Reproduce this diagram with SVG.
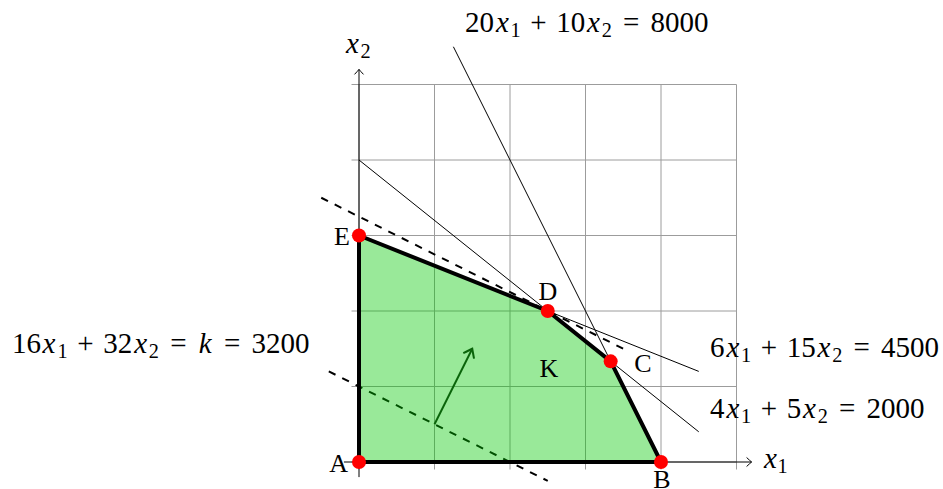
<svg xmlns="http://www.w3.org/2000/svg" width="943" height="489" viewBox="0 0 943 489">
<style>
text{font-family:"Liberation Serif","Times New Roman",serif;fill:#000}
.eq{font-size:29px}
.sub{font-size:20.3px}
.it{font-style:italic}
.pt{font-size:26px}
.grid{stroke:#9c9c9c;stroke-width:1;fill:none}
.axis{stroke:#000;stroke-width:1;fill:none}
.thin{stroke:#000;stroke-width:1;fill:none}
.dash{stroke:#000;stroke-width:2;stroke-dasharray:7.5 7.5;fill:none}
.dot{fill:#ff0000}
</style>
<defs>
<marker id="tip" markerUnits="userSpaceOnUse" markerWidth="14" markerHeight="14" viewBox="-8 -7 10 14" refX="0" refY="0" orient="auto">
<path d="M-5,-4.5 Q-1.5,-1.2 0,0 Q-1.5,1.2 -5,4.5" fill="none" stroke="#000" stroke-width="1"/>
</marker>
<marker id="gtip" markerUnits="userSpaceOnUse" markerWidth="20" markerHeight="20" viewBox="-10 -10 12 20" refX="0" refY="0" orient="auto">
<path d="M-8,-6 Q-2.5,-1.8 0,0 Q-2.5,1.8 -8,6" fill="none" stroke="#0a640a" stroke-width="2"/>
</marker>
</defs>

<g id="grid">
<path class="grid" d="M359,469.5V84.5M434.5,469.5V84.5M510,469.5V84.5M585.5,469.5V84.5M661,469.5V84.5M736.5,469.5V84.5M351.5,462H736.5M351.5,386.5H736.5M351.5,311H736.5M351.5,235.5H736.5M351.5,160H736.5M351.5,84.5H736.5"/>
</g>

<g id="axes">
<line class="axis" x1="343.9" y1="462" x2="751.6" y2="462" marker-end="url(#tip)"/>
<line class="axis" x1="359" y1="477.1" x2="359" y2="69.4" marker-end="url(#tip)"/>
</g>

<g id="connectors">
<line class="thin" x1="453.4" y1="46.75" x2="661" y2="462"/>
<line class="thin" x1="359" y1="160" x2="698.75" y2="431.8"/>
<line class="thin" x1="359" y1="235.5" x2="698.75" y2="371.4"/>
<line class="dash" x1="321.25" y1="197.75" x2="623.25" y2="348.75"/>
<line class="dash" x1="328.8" y1="371.4" x2="547.75" y2="480.9"/>
</g>

<g id="K">
<polygon points="359,462 661,462 610.67,361.33 547.75,311 359,235.5" fill="rgb(0,200,0)" fill-opacity="0.4" stroke="none"/>
<polygon points="359,462 661,462 610.67,361.33 547.75,311 359,235.5" fill="none" stroke="#000" stroke-width="4" stroke-linejoin="round"/>
<text class="pt" x="549" y="377" text-anchor="middle">K</text>
</g>

<g id="gradient-arrow">
<line x1="434.5" y1="424.25" x2="472.25" y2="348.75" stroke="#0a640a" stroke-width="2" marker-end="url(#gtip)"/>
</g>

<g id="A"><circle class="dot" cx="359" cy="462" r="7"/><text class="pt" x="348" y="472" text-anchor="end">A</text></g>
<g id="B"><circle class="dot" cx="661" cy="462" r="7"/><text class="pt" x="662" y="488" text-anchor="middle">B</text></g>
<g id="C"><circle class="dot" cx="610.67" cy="361.33" r="7"/><text class="pt" x="643" y="372" text-anchor="middle">C</text></g>
<g id="D"><circle class="dot" cx="547.75" cy="311" r="7"/><text class="pt" x="548" y="300" text-anchor="middle">D</text></g>
<g id="E"><circle class="dot" cx="359" cy="235.5" r="7"/><text class="pt" x="350" y="245" text-anchor="end">E</text></g>

<g id="labels">
<text class="eq"><tspan x="764" y="468" class="it">x</tspan><tspan x="777.5" y="472.5" class="sub">1</tspan></text>
<text class="eq"><tspan x="346" y="53" class="it">x</tspan><tspan x="360.5" y="57.5" class="sub">2</tspan></text>

<text class="eq"><tspan x="12" y="353">16</tspan><tspan x="42.5" y="353" class="it">x</tspan><tspan x="57.6" y="357.5" class="sub">1</tspan><tspan x="77.3" y="353">+</tspan><tspan x="103.2" y="353">32</tspan><tspan x="134.2" y="353" class="it">x</tspan><tspan x="148.8" y="357.5" class="sub">2</tspan><tspan x="170.2" y="353">=</tspan><tspan x="198.8" y="353" class="it">k</tspan><tspan x="224" y="353">=</tspan><tspan x="251.5" y="353">3200</tspan></text>

<text class="eq"><tspan x="465" y="32">20</tspan><tspan x="495.9" y="32" class="it">x</tspan><tspan x="510.6" y="36.5" class="sub">1</tspan><tspan x="530.3" y="32">+</tspan><tspan x="556.15" y="32">10</tspan><tspan x="587" y="32" class="it">x</tspan><tspan x="601.75" y="36.5" class="sub">2</tspan><tspan x="623.1" y="32">=</tspan><tspan x="650.6" y="32">8000</tspan></text>

<text class="eq"><tspan x="710" y="357">6</tspan><tspan x="726.4" y="357" class="it">x</tspan><tspan x="741.1" y="361.5" class="sub">1</tspan><tspan x="760.8" y="357">+</tspan><tspan x="786.65" y="357">15</tspan><tspan x="817.55" y="357" class="it">x</tspan><tspan x="832.25" y="361.5" class="sub">2</tspan><tspan x="853.6" y="357">=</tspan><tspan x="881.1" y="357">4500</tspan></text>

<text class="eq"><tspan x="710" y="418">4</tspan><tspan x="726.4" y="418" class="it">x</tspan><tspan x="741.1" y="422.5" class="sub">1</tspan><tspan x="760.8" y="418">+</tspan><tspan x="786.65" y="418">5</tspan><tspan x="803.05" y="418" class="it">x</tspan><tspan x="817.75" y="422.5" class="sub">2</tspan><tspan x="839.1" y="418">=</tspan><tspan x="866.6" y="418">2000</tspan></text>
</g>
</svg>
